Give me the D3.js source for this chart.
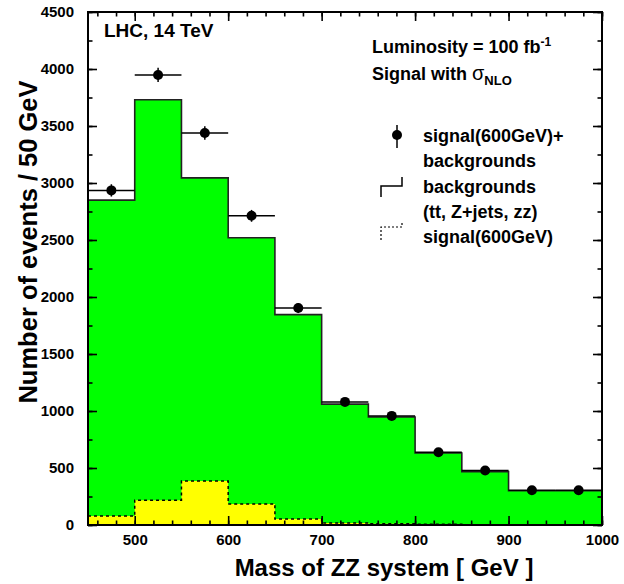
<!DOCTYPE html>
<html lang="en">
<head>
<meta charset="UTF-8">
<title>ZZ mass</title>
<style>
  body { margin: 0; background: #fff; }
  text { font-family: "Liberation Sans", Arial, sans-serif; font-weight: bold; }
</style>
</head>
<body>
<script src="https://d3js.org/d3.v7.min.js"></script>
<svg id="chart"></svg>
<script>
    // bins of 50 GeV, lower edges
    var binLow = [450, 500, 550, 600, 650, 700, 750, 800, 850, 900, 950];
    var binWidth = 50;
    var background = [2850, 3730, 3045, 2520, 1845, 1060, 948, 632, 468, 300, 300];
    var signal = [78, 218, 385, 185, 52, 18, 10, 6, 3, 2, 1];
    var dataPts = [2935, 3948, 3438, 2712, 1903, 1080, 957, 638, 478, 305, 305];
    var dataErr = [54, 63, 59, 52, 44, 33, 31, 25, 22, 17, 17];
    var xMajor = [500, 600, 700, 800, 900, 1000];
    var yMajor = [0, 500, 1000, 1500, 2000, 2500, 3000, 3500, 4000, 4500];

    var W = 624, H = 584;
    var svg = d3.select("#chart").attr("width", W).attr("height", H);

    var x = d3.scaleLinear().domain([450, 1000]).range([88, 602]);
    var y = d3.scaleLinear().domain([0, 4500]).range([525, 12]);

    // step histograms
    function steps(vals) {
        var pts = binLow.map((b, i) => [b, vals[i]]);
        pts.push([binLow[binLow.length - 1] + binWidth, vals[vals.length - 1]]);
        return pts;
    }
    var area = d3.area().curve(d3.curveStepAfter)
        .x(d => x(d[0])).y0(y(0)).y1(d => y(d[1]));
    var line = d3.line().curve(d3.curveStepAfter)
        .x(d => x(d[0])).y(d => y(d[1]));

    svg.append("path").attr("d", area(steps(background)))
        .attr("fill", "#00ff00");
    svg.append("path").attr("d", line(steps(background)))
        .attr("fill", "none").attr("stroke", "#222").attr("stroke-width", 1.6);

    svg.append("path").attr("d", area(steps(signal)))
        .attr("fill", "#ffff00");
    svg.append("path").attr("d", line(steps(signal)))
        .attr("fill", "none").attr("stroke", "#000").attr("stroke-width", 1.5)
        .attr("stroke-dasharray", "3,3");

    // data points with errors
    var pts = svg.append("g").selectAll("g").data(binLow).enter().append("g");
    pts.append("line")
        .attr("x1", d => x(d)).attr("x2", d => x(d + binWidth))
        .attr("y1", (d, i) => y(dataPts[i])).attr("y2", (d, i) => y(dataPts[i]))
        .attr("stroke", "#000").attr("stroke-width", 1.5);
    pts.append("line")
        .attr("x1", d => x(d + binWidth / 2)).attr("x2", d => x(d + binWidth / 2))
        .attr("y1", (d, i) => y(dataPts[i] - dataErr[i])).attr("y2", (d, i) => y(dataPts[i] + dataErr[i]))
        .attr("stroke", "#000").attr("stroke-width", 1.5);
    pts.append("circle")
        .attr("cx", d => x(d + binWidth / 2)).attr("cy", (d, i) => y(dataPts[i]))
        .attr("r", 5).attr("fill", "#000");

    // axes, ticks pointing inward
    var xMinor = d3.range(460, 1001, 20);
    var yMinor = d3.range(0, 4501, 250);
    function styleAxis(g) {
        g.select(".domain").remove();
        g.selectAll(".tick line").attr("stroke", "#000").attr("stroke-width", 1.6);
        g.selectAll("text").style("font-size", "15px").attr("fill", "#000");
    }
    svg.append("g").attr("transform", `translate(0,${y(0)})`)
        .call(d3.axisBottom(x).tickValues(xMinor).tickSize(-4.5).tickFormat(""))
        .call(styleAxis);
    svg.append("g").attr("transform", `translate(0,${y(0)})`)
        .call(d3.axisBottom(x).tickValues(xMajor).tickSize(-9).tickPadding(9).tickFormat(d3.format("d")))
        .call(styleAxis);
    svg.append("g").attr("transform", `translate(0,${y(4500)})`)
        .call(d3.axisTop(x).tickValues(xMinor).tickSize(-4.5).tickFormat(""))
        .call(styleAxis);
    svg.append("g").attr("transform", `translate(0,${y(4500)})`)
        .call(d3.axisTop(x).tickValues(xMajor).tickSize(-9).tickFormat(""))
        .call(styleAxis);
    svg.append("g").attr("transform", `translate(${x(450)},0)`)
        .call(d3.axisLeft(y).tickValues(yMinor).tickSize(-4.5).tickFormat(""))
        .call(styleAxis);
    svg.append("g").attr("transform", `translate(${x(450)},0)`)
        .call(d3.axisLeft(y).tickValues(yMajor).tickSize(-9).tickPadding(14).tickFormat(d3.format("d")))
        .call(styleAxis);
    svg.append("g").attr("transform", `translate(${x(1000)},0)`)
        .call(d3.axisRight(y).tickValues(yMinor).tickSize(-4.5).tickFormat(""))
        .call(styleAxis);
    svg.append("g").attr("transform", `translate(${x(1000)},0)`)
        .call(d3.axisRight(y).tickValues(yMajor).tickSize(-9).tickFormat(""))
        .call(styleAxis);

    // frame
    svg.append("rect")
        .attr("x", x(450)).attr("y", y(4500))
        .attr("width", x(1000) - x(450)).attr("height", y(0) - y(4500))
        .attr("fill", "none").attr("stroke", "#000").attr("stroke-width", 2);

    // axis titles
    svg.append("text").attr("x", 384).attr("y", 576)
        .attr("text-anchor", "middle").style("font-size", "24px")
        .text("Mass of ZZ system [ GeV ]");
    svg.append("text").attr("transform", "translate(37,242) rotate(-90)")
        .attr("text-anchor", "middle").style("font-size", "25.5px")
        .text("Number of events / 50 GeV");

    // annotations
    svg.append("text").attr("x", 104).attr("y", 37).style("font-size", "19px")
        .text("LHC, 14 TeV");
    var lum = svg.append("text").attr("x", 372).attr("y", 53).style("font-size", "18px");
    lum.append("tspan").text("Luminosity = 100 fb");
    lum.append("tspan").attr("dy", -7).style("font-size", "12px").text("-1");
    var sig = svg.append("text").attr("x", 372).attr("y", 80).style("font-size", "18px");
    sig.append("tspan").text("Signal with ");
    sig.append("tspan").style("font-weight", "normal").style("font-size", "20px").text("σ");
    sig.append("tspan").attr("dy", 5).style("font-size", "13px").text("NLO");

    // legend
    var leg = svg.append("g").style("font-size", "18px");
    leg.append("line").attr("x1", 397).attr("x2", 397).attr("y1", 125).attr("y2", 148)
        .attr("stroke", "#000").attr("stroke-width", 1.5);
    leg.append("circle").attr("cx", 397).attr("cy", 135).attr("r", 5).attr("fill", "#000");
    leg.append("text").attr("x", 423).attr("y", 142).text("signal(600GeV)+");
    leg.append("text").attr("x", 423).attr("y", 167).text("backgrounds");
    leg.append("path").attr("d", "M381,197V186H402V177")
        .attr("fill", "none").attr("stroke", "#000").attr("stroke-width", 1.5);
    leg.append("text").attr("x", 423).attr("y", 193).text("backgrounds");
    leg.append("text").attr("x", 423).attr("y", 218).text("(tt, Z+jets, zz)");
    leg.append("path").attr("d", "M381,240V227H402V222")
        .attr("fill", "none").attr("stroke", "#000").attr("stroke-width", 1.2)
        .attr("stroke-dasharray", "2,2");
    leg.append("text").attr("x", 423).attr("y", 243).text("signal(600GeV)");
</script>
</body>
</html>
